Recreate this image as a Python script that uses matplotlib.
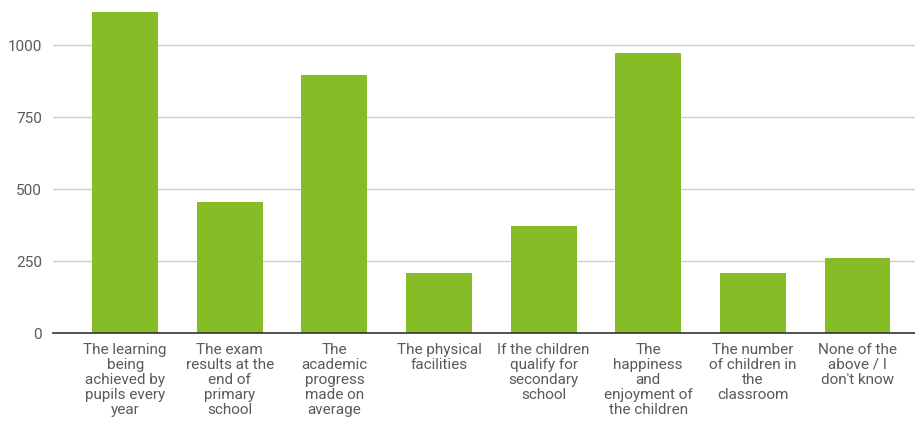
import matplotlib
matplotlib.use("Agg")
import matplotlib.pyplot as plt

categories = [
    "The learning\nbeing\nachieved by\npupils every\nyear",
    "The exam\nresults at the\nend of\nprimary\nschool",
    "The\nacademic\nprogress\nmade on\naverage",
    "The physical\nfacilities",
    "If the children\nqualify for\nsecondary\nschool",
    "The\nhappiness\nand\nenjoyment of\nthe children",
    "The number\nof children in\nthe\nclassroom",
    "None of the\nabove / I\ndon't know",
]
values = [1115, 455, 896, 208, 372, 972, 208, 260]
yticks = [0, 250, 500, 750, 1000]

plt.rcParams['font.family'] = ['Roboto', 'DejaVu Sans']

fig = plt.figure(figsize=(9.15, 4.23), dpi=100)
ax = fig.add_axes([53/915, 90/423, (915-53)/915, 331/423])

x = list(range(len(values)))
ax.bar(x, values, width=0.63, color="#86bc25", zorder=3)
ax.set_xlim(-0.69, 7.55)
ax.set_ylim(0, 1150)
ax.set_yticks(yticks)
ax.set_yticklabels([str(v) for v in yticks])
ax.set_xticks(x)
ax.set_xticklabels(categories, fontsize=11, color="#5a5a5a", linespacing=1.1, va="top")
ax.tick_params(axis='y', labelsize=11, labelcolor="#5a5a5a", length=0, pad=8)
ax.tick_params(axis='x', length=0, pad=7)
ax.grid(axis='y', color="#cccccc", linewidth=1, zorder=0)
for s in ['top', 'right', 'left']:
    ax.spines[s].set_visible(False)
ax.spines['bottom'].set_color("#333333")
ax.spines['bottom'].set_linewidth(1.2)
ax.spines['bottom'].set_zorder(4)

fig.savefig("out.png", dpi=100)
